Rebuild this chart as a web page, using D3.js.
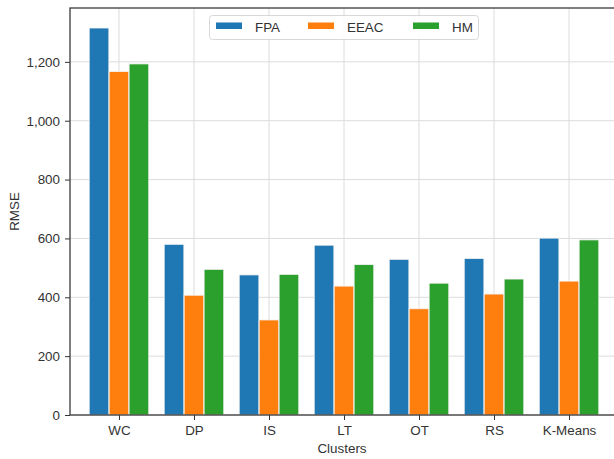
<!DOCTYPE html>
<html>
<head>
<meta charset="utf-8">
<script src="https://cdn.jsdelivr.net/npm/d3@7"></script>
<style>
  html, body { margin: 0; padding: 0; background: #fff; }
  svg { display: block; font-family: "Liberation Sans", Arial, sans-serif; }
</style>
</head>
<body>
<svg id="chart" width="614" height="459"></svg>
<script>
// RMSE per cluster for each method
const categories = ["WC", "DP", "IS", "LT", "OT", "RS", "K-Means"];
const seriesNames = ["FPA", "EEAC", "HM"];
const fpa  = [1315, 580, 476, 577, 529, 532, 601];
const eeac = [1167, 407, 323, 438, 361, 411, 455];
const hm   = [1193, 495, 478, 511, 448, 462, 595];
const yTicks = [0, 200, 400, 600, 800, 1000, 1200];
const colors = ["#1f77b4", "#ff7f0e", "#2ca02c"];

(function () {
  const values = [fpa, eeac, hm];

  const svg = d3.select("#chart");
  const plotL = 70, plotR = 618, plotT = 8, plotB = 415;
  const barW = 0.262, step = 0.266;
  const pad = 0.653;
  const fontSize = 13.4;

  const x = d3.scaleLinear().domain([-pad, categories.length - 1 + pad]).range([plotL, plotR]);
  const y = d3.scaleLinear().domain([0, 1383]).range([plotB, plotT]);

  const textColor = "#333";
  const gridColor = "#dcdcdc";

  // grid
  const grid = svg.append("g");
  grid.selectAll("line.gy").data(yTicks).join("line")
    .attr("class", "gy")
    .attr("x1", plotL).attr("x2", plotR)
    .attr("y1", d => y(d)).attr("y2", d => y(d))
    .attr("stroke", gridColor).attr("stroke-width", 1);
  grid.selectAll("line.gx").data(categories).join("line")
    .attr("class", "gx")
    .attr("x1", (d, i) => x(i)).attr("x2", (d, i) => x(i))
    .attr("y1", plotT).attr("y2", plotB)
    .attr("stroke", gridColor).attr("stroke-width", 1);

  // bars
  seriesNames.forEach((name, s) => {
    svg.append("g").selectAll("rect").data(values[s]).join("rect")
      .attr("x", (d, i) => x(i + (s - 1) * step - barW / 2))
      .attr("width", x(barW) - x(0))
      .attr("y", d => y(d))
      .attr("height", d => y(0) - y(d))
      .attr("fill", colors[s])
      .attr("stroke", "#f4f4f4")
      .attr("stroke-width", 0.8);
  });

  // axes
  const xAxis = d3.axisBottom(x)
    .tickValues(categories.map((d, i) => i))
    .tickFormat(i => categories[i])
    .tickSize(5).tickSizeOuter(0).tickPadding(5);
  const yAxis = d3.axisLeft(y)
    .tickValues(yTicks)
    .tickFormat(d3.format(","))
    .tickSize(5).tickSizeOuter(0).tickPadding(5);

  const gx = svg.append("g").attr("transform", `translate(0,${plotB})`).call(xAxis);
  const gy = svg.append("g").attr("transform", `translate(${plotL},0)`).call(yAxis);
  [gx, gy].forEach(g => {
    g.select(".domain").remove();
    g.selectAll(".tick line").attr("stroke", textColor).attr("stroke-width", 1);
    g.selectAll(".tick text").attr("fill", textColor).attr("font-size", fontSize)
      .attr("font-family", "Liberation Sans, Arial, sans-serif");
  });

  // spines
  svg.append("rect")
    .attr("x", plotL).attr("y", plotT).attr("width", plotR - plotL).attr("height", plotB - plotT)
    .attr("fill", "none").attr("stroke", "#3a3a3a").attr("stroke-width", 1.3);

  // axis titles
  svg.append("text")
    .attr("x", (plotL + plotR) / 2 - 2).attr("y", 452.5)
    .attr("text-anchor", "middle").attr("fill", textColor).attr("font-size", fontSize)
    .text("Clusters");
  svg.append("text")
    .attr("transform", `translate(18.5,${(plotT + plotB) / 2}) rotate(-90)`)
    .attr("text-anchor", "middle").attr("fill", textColor).attr("font-size", fontSize)
    .text("RMSE");

  // legend
  const legend = svg.append("g");
  legend.append("rect")
    .attr("x", 209.5).attr("y", 15.5).attr("width", 269).attr("height", 24)
    .attr("rx", 3).attr("fill", "#fff").attr("fill-opacity", 0.85)
    .attr("stroke", "#d8d8d8").attr("stroke-width", 1);
  const legendX = [216, 308, 413];
  seriesNames.forEach((name, s) => {
    legend.append("rect")
      .attr("x", legendX[s]).attr("y", 22.5).attr("width", 26).attr("height", 6.5)
      .attr("fill", colors[s]);
    legend.append("text")
      .attr("x", legendX[s] + 39).attr("y", 31.5)
      .attr("fill", textColor).attr("font-size", fontSize)
      .text(name);
  });
})();
</script>
</body>
</html>
